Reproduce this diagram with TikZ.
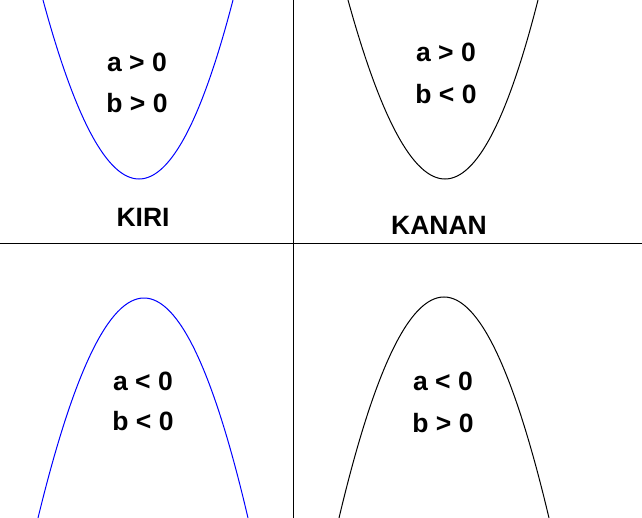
\documentclass[tikz,border=0pt]{standalone}
\usepackage{fontspec}
\setmainfont{Liberation Sans}
\begin{document}
\begin{tikzpicture}[x=1pt,y=-1pt,
  lbl/.style={font=\fontsize{26.5}{30}\selectfont\bfseries, anchor=base, inner sep=0pt},
  axis/.style={line width=1pt, black},
  curveb/.style={line width=1pt, blue},
  curvek/.style={line width=1pt, black}]
\useasboundingbox (0,0) rectangle (642,518);
\fill[white] (0,0) rectangle (642,518);
% axes
\coordinate (hl) at (0,244); \coordinate (hr) at (642,244);
\coordinate (vt) at (293,0); \coordinate (vb) at (293,518);
\draw[axis] (hl) -- (hr);
\draw[axis] (vt) -- (vb);
% parabolas
\draw[curveb] (43,0) .. controls (107.67,238.67) and (171,238.67) .. (233,0);
\draw[curvek] (348,0) .. controls (414,238.67) and (477.33,238.67) .. (538,0);
\draw[curveb] (38,518) .. controls (109.33,224.67) and (179.33,224.67) .. (248,518);
\draw[curvek] (339,518) .. controls (409,223.33) and (479,223.33) .. (549,518);
% labels
\node[lbl] (tla) at (137,72) {a > 0};
\node[lbl] (tlb) at (137,113) {b > 0};
\node[lbl] (kiri) at (143,227) {KIRI};
\node[lbl] (tra) at (446,62) {a > 0};
\node[lbl] (trb) at (446,104) {b < 0};
\node[lbl] (kanan) at (439,235) {KANAN};
\node[lbl] (bla) at (143,390) {a < 0};
\node[lbl] (blb) at (143,430) {b < 0};
\node[lbl] (bra) at (443,390) {a < 0};
\node[lbl] (brb) at (443,432) {b > 0};
\end{tikzpicture}
\end{document}
